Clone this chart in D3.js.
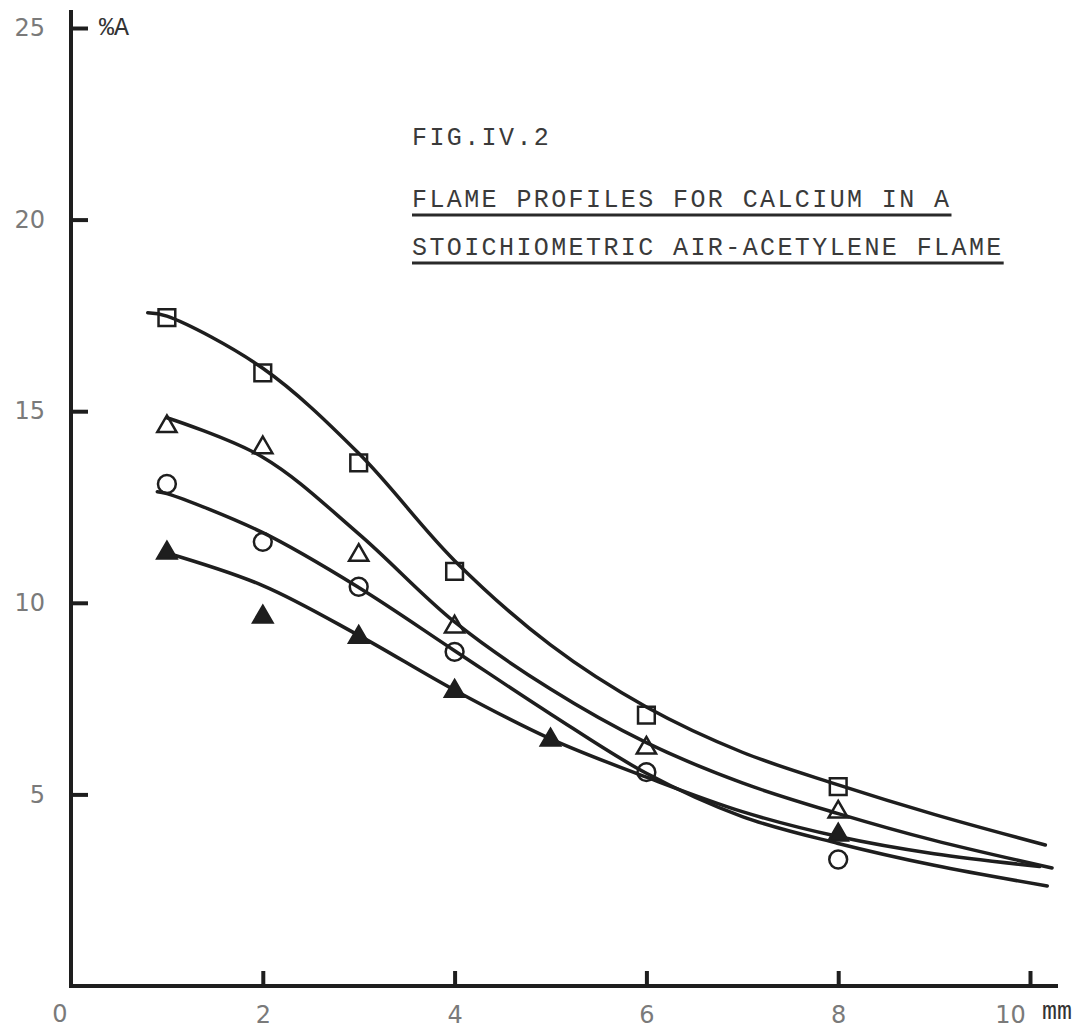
<!DOCTYPE html>
<html>
<head>
<meta charset="utf-8">
<script src="https://cdn.jsdelivr.net/npm/d3@7"></script>
<style>
  body { margin: 0; background: #fff; }
  svg { display: block; }
</style>
</head>
<body>
<script>
// measured points (mm from burner, %A)
var squareX = [1, 2, 3, 4, 6, 8];
var squareY = [17.44, 16.0, 13.65, 10.82, 7.07, 5.2];
var triX = [1, 2, 3, 4, 6, 8];
var triY = [14.6, 14.05, 11.24, 9.37, 6.21, 4.54];
var circleX = [1, 2, 3, 4, 6, 8];
var circleY = [13.1, 11.59, 10.42, 8.72, 5.58, 3.3];
var filledX = [1, 2, 3, 4, 5, 8];
var filledY = [11.3, 9.63, 9.1, 7.69, 6.42, 3.94];

// hand drawn curves
var squareFitX = [0.8, 1, 2, 3, 4, 5, 6, 7, 8, 9, 10.16];
var squareFitY = [17.57, 17.48, 16.12, 13.9, 11.1, 8.9, 7.28, 6.1, 5.25, 4.48, 3.68];
var triFitX = [1, 2, 3, 4, 5, 6, 7, 8, 9, 10.23];
var triFitY = [14.83, 13.8, 11.8, 9.5, 7.75, 6.35, 5.3, 4.5, 3.8, 3.08];
var circleFitX = [0.9, 1, 2, 3, 4, 5, 6, 7, 8, 9, 10.18];
var circleFitY = [12.9, 12.85, 11.83, 10.4, 8.75, 7.1, 5.55, 4.42, 3.72, 3.15, 2.61];
var filledFitX = [1, 2, 3, 4, 5, 6, 7, 8, 9, 10.1];
var filledFitY = [11.3, 10.45, 9.15, 7.72, 6.45, 5.45, 4.55, 3.9, 3.45, 3.12];

var xTicks = [2, 4, 6, 8, 10];
var yTicks = [5, 10, 15, 20, 25];
var titleLines = ["FIG.IV.2", "FLAME PROFILES FOR CALCIUM IN A", "STOICHIOMETRIC AIR-ACETYLENE FLAME"];

var svgWidth = 1087;
var svgHeight = 1028;
var ink = "#1e1e1e";

var svg = d3.select("body")
  .append("svg")
  .attr("width", svgWidth)
  .attr("height", svgHeight);

var x = d3.scaleLinear().domain([0, 10]).range([71, 1030]);
var y = d3.scaleLinear().domain([0, 25]).range([986, 28]);

// axes lines
svg.append("line")
  .attr("x1", x(0)).attr("x2", x(0))
  .attr("y1", 10).attr("y2", y(0) + 2)
  .attr("stroke", ink).attr("stroke-width", 4);
svg.append("line")
  .attr("x1", x(0) - 2).attr("x2", 1058)
  .attr("y1", y(0)).attr("y2", y(0))
  .attr("stroke", ink).attr("stroke-width", 4);

var labelFont = "'DejaVu Sans', sans-serif";
var typeFont = "'Liberation Mono', monospace";

// y ticks go inward (right)
var leftAxis = d3.axisLeft(y).tickValues(yTicks).tickSize(-17).tickPadding(26);
var gy = svg.append("g")
  .attr("transform", `translate(${x(0)},0)`)
  .call(leftAxis);
gy.select(".domain").remove();
gy.selectAll(".tick line").attr("stroke", ink).attr("stroke-width", 4);
gy.selectAll(".tick text")
  .attr("font-family", labelFont)
  .attr("font-size", 24)
  .attr("fill", "#7a7a7a");

// x ticks go inward (up)
var bottomAxis = d3.axisBottom(x).tickValues(xTicks).tickSize(-15).tickPadding(20);
var gx = svg.append("g")
  .attr("transform", `translate(0,${y(0)})`)
  .call(bottomAxis);
gx.select(".domain").remove();
gx.selectAll(".tick line").attr("stroke", ink).attr("stroke-width", 4);
gx.selectAll(".tick text")
  .attr("font-family", labelFont)
  .attr("font-size", 24)
  .attr("fill", "#7a7a7a")
  .attr("dx", d => d === 10 ? -20 : 0);

// origin label and units
svg.append("text")
  .attr("x", x(0) - 11).attr("y", 1022)
  .attr("text-anchor", "middle")
  .attr("font-family", labelFont).attr("font-size", 24)
  .attr("fill", "#7a7a7a")
  .text("0");
svg.append("text")
  .attr("x", 1042).attr("y", 1019)
  .attr("font-family", typeFont).attr("font-size", 25)
  .attr("fill", "#333")
  .text("mm");
svg.append("text")
  .attr("x", 99).attr("y", 35)
  .attr("font-family", typeFont).attr("font-size", 25)
  .attr("fill", "#333")
  .text("%A");

// title block, typewriter style
var titleY = [145, 207, 255];
titleLines.forEach(function (t, i) {
  var txt = svg.append("text")
    .attr("x", 412).attr("y", titleY[i])
    .attr("font-family", typeFont)
    .attr("font-size", 25)
    .attr("letter-spacing", 2.4)
    .attr("fill", "#3a3a3a")
    .text(t);
  if (i > 0) {
    var w = txt.node().getComputedTextLength();
    svg.append("line")
      .attr("x1", 412).attr("x2", 412 + w)
      .attr("y1", titleY[i] + 8).attr("y2", titleY[i] + 8)
      .attr("stroke", "#2a2a2a").attr("stroke-width", 3);
  }
});

// curves
var line = d3.line()
  .x(d => x(d[0]))
  .y(d => y(d[1]))
  .curve(d3.curveCatmullRom.alpha(0.5));

[[squareFitX, squareFitY], [triFitX, triFitY], [circleFitX, circleFitY], [filledFitX, filledFitY]]
  .forEach(function (s) {
    svg.append("path")
      .datum(d3.zip(s[0], s[1]))
      .attr("d", line)
      .attr("fill", "none")
      .attr("stroke", ink)
      .attr("stroke-width", 3.5)
      .attr("stroke-linecap", "round");
  });

// markers
function drawMarkers(xs, ys, type, size, filled) {
  svg.append("g").selectAll("path")
    .data(d3.zip(xs, ys))
    .enter()
    .append("path")
    .attr("transform", d => `translate(${x(d[0])},${y(d[1])})`)
    .attr("d", d3.symbol().type(type).size(size))
    .attr("fill", filled ? ink : "#fff")
    .attr("fill-opacity", filled ? 1 : 0)
    .attr("stroke", ink)
    .attr("stroke-width", 2.5);
}

drawMarkers(squareX, squareY, d3.symbolSquare, 280, false);
drawMarkers(triX, triY, d3.symbolTriangle, 160, false);
drawMarkers(circleX, circleY, d3.symbolCircle, 250, false);
drawMarkers(filledX, filledY, d3.symbolTriangle, 160, true);
</script>
</body>
</html>
